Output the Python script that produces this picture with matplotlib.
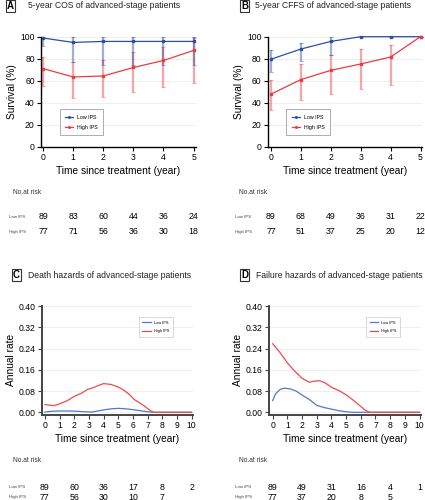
import matplotlib
matplotlib.use("Agg")
import matplotlib.pyplot as plt
import matplotlib.transforms as mtransforms
from matplotlib import font_manager

# ---- data ----
years = [0, 1, 2, 3, 4, 5]

cos_low = [98.8, 94.8, 95.7, 95.7, 95.7, 95.7]
cos_low_hi = [100, 99.5, 99.5, 99.5, 99.5, 99.5]
cos_low_lo = [91.8, 76.7, 74.3, 74.0, 74.0, 74.3]
cos_high = [71.0, 63.4, 64.3, 72.0, 78.4, 87.5]
cos_high_hi = [81.8, 76.7, 78.8, 86.0, 90.6, 99.0]
cos_high_lo = [55.2, 44.3, 44.8, 49.7, 53.9, 57.9]

cffs_low = [79.5, 88.8, 95.7, 100, 100, 100]
cffs_low_hi = [87.5, 94.5, 99.5, 100, 100, 100]
cffs_low_lo = [67.9, 77.5, 83.0, 100, 100, 100]
cffs_high = [47.8, 61.0, 69.4, 75.2, 81.5, 100]
cffs_high_hi = [60.6, 75.2, 83.0, 88.8, 92.9, 100]
cffs_high_lo = [33.0, 42.5, 47.9, 52.1, 56.3, 100]

risk_A_low = [89, 83, 60, 44, 36, 24]
risk_A_high = [77, 71, 56, 36, 30, 18]
risk_B_low = [89, 68, 49, 36, 31, 22]
risk_B_high = [77, 51, 37, 25, 20, 12]

death_t_high = [0, 0.6, 1.0, 1.5, 2.0, 2.5, 2.9, 3.3, 3.7, 4.0, 4.5, 5.0, 5.3, 5.7, 6.1, 6.5, 6.8, 7.1, 7.4, 8, 9, 10]
death_high = [0.029, 0.025, 0.032, 0.043, 0.060, 0.072, 0.086, 0.093, 0.102, 0.108, 0.105, 0.095, 0.086, 0.070, 0.048, 0.034, 0.023, 0.010, 0.0, 0.0, 0.0, 0.0]
death_t_low = [0, 0.5, 1.0, 1.6, 2.2, 2.7, 3.2, 3.6, 4.0, 4.5, 5.0, 5.5, 6.0, 6.5, 7.0, 7.4, 8, 9, 10]
death_low = [0.001, 0.004, 0.005, 0.005, 0.004, 0.002, 0.001, 0.005, 0.009, 0.013, 0.015, 0.013, 0.010, 0.006, 0.002, 0.0, 0.0, 0.0, 0.0]

fail_t_high = [0, 0.5, 1.0, 1.5, 2.0, 2.5, 2.8, 3.2, 3.6, 4.0, 4.5, 5.0, 5.5, 6.0, 6.3, 6.6, 7, 8, 9, 10]
fail_high = [0.258, 0.225, 0.186, 0.155, 0.128, 0.113, 0.117, 0.119, 0.110, 0.094, 0.082, 0.066, 0.045, 0.022, 0.008, 0.0, 0.0, 0.0, 0.0, 0.0]
fail_t_low = [0, 0.2, 0.5, 0.8, 1.2, 1.6, 2.0, 2.5, 3.0, 3.5, 4.0, 4.5, 5.0, 5.5, 6, 7, 8, 9, 10]
fail_low = [0.044, 0.070, 0.086, 0.091, 0.088, 0.080, 0.065, 0.048, 0.026, 0.018, 0.012, 0.006, 0.002, 0.0, 0.0, 0.0, 0.0, 0.0, 0.0]

risk_C_years = [0, 2, 4, 6, 8, 10]
risk_C_low = [89, 60, 36, 17, 8, 2]
risk_C_high = [77, 56, 30, 10, 7, ""]
risk_D_low = [89, 49, 31, 16, 4, 1]
risk_D_high = [77, 37, 20, 8, 5, ""]

# ---- style ----
available = {f.name for f in font_manager.fontManager.ttflist}
narrow = "Liberation Sans Narrow" if "Liberation Sans Narrow" in available else "Liberation Sans"
plt.rcParams["font.family"] = ["Liberation Sans", "DejaVu Sans"]

BLUE = "#2b4ea6"
RED = "#ee3a3f"
BLUE2 = "#5577c6"
RED2 = "#f24848"
GRID = "#ececec"

W, H = 425, 500
fig = plt.figure(figsize=(4.25, 5.0), dpi=100)


def add_ax(left, top, right, bottom):
    return fig.add_axes([left / W, 1 - bottom / H, (right - left) / W, (bottom - top) / H])


def fy(py):
    return 1 - py / H


def style_ax(ax, spine_color="black", spine_w=1.0):
    for s in ["top", "right"]:
        ax.spines[s].set_visible(False)
    for s in ["left", "bottom"]:
        ax.spines[s].set_linewidth(spine_w)
        ax.spines[s].set_color(spine_color)
    ax.tick_params(length=3, width=0.8, pad=1.5, labelsize=6.2, color=spine_color)
    for lab in ax.get_xticklabels() + ax.get_yticklabels():
        lab.set_fontfamily(narrow)
    ax.yaxis.grid(True, color=GRID, lw=0.6)
    ax.set_axisbelow(True)


def panel_title(x_box, x_text, y, letter, text):
    fig.text(x_box / W, fy(y), letter, fontsize=7, fontweight="bold", va="center", ha="left",
             bbox=dict(boxstyle="square,pad=0.12", fc="white", ec="#333333", lw=0.8))
    fig.text(x_text / W, fy(y), text, fontsize=6.2, va="center", ha="left", color="#222222")


def surv_panel(ax, low, low_hi, low_lo, high, high_hi, high_lo):
    for y, hi, lo, c in [(high, high_hi, high_lo, RED), (low, low_hi, low_lo, BLUE)]:
        yerr = [[v - l for v, l in zip(y, lo)], [h - v for v, h in zip(y, hi)]]
        ax.errorbar(years, y, yerr=yerr, fmt="none", ecolor=c, alpha=0.45, elinewidth=1.6,
                    capsize=1.5, capthick=0.8, clip_on=False)
    ax.plot(years, low, color=BLUE, lw=0.9, marker="s", ms=2, label="Low IPS", clip_on=False, zorder=5)
    ax.plot(years, high, color=RED, lw=0.9, marker="s", ms=2, label="High IPS", clip_on=False, zorder=5)
    ax.set_ylim(0, 100)
    ax.set_yticks([0, 20, 40, 60, 80, 100])
    ax.set_xticks(years)
    style_ax(ax)
    ax.set_xlabel("Time since treatment (year)", fontsize=7.3, fontfamily=narrow, labelpad=3)
    ax.set_ylabel("Survival (%)", fontsize=7.3, fontfamily=narrow, labelpad=2)
    ax.legend(loc="lower left", bbox_to_anchor=(0.12, 0.105), borderaxespad=0, fontsize=3.8,
              handlelength=1.6, markerscale=0.5, frameon=True, fancybox=False, edgecolor="#888888",
              borderpad=1.0, labelspacing=1.0, handletextpad=0.7).get_frame().set_linewidth(0.6)


def hazard_panel(ax, tl, low, th, high):
    ax.plot(tl, low, color=BLUE2, lw=0.9, label="Low IPS")
    ax.plot(th, high, color=RED2, lw=0.9, label="High IPS")
    ax.set_xlim(-0.2, 10.1)
    ax.set_ylim(-0.009, 0.4)
    ax.set_yticks([0, 0.08, 0.16, 0.24, 0.32, 0.40])
    ax.set_yticklabels(["0.00", "0.08", "0.16", "0.24", "0.32", "0.40"])
    ax.set_xticks(range(0, 11))
    style_ax(ax, spine_color="#444444", spine_w=1.4)
    ax.set_xlabel("Time since treatment (year)", fontsize=7.3, fontfamily=narrow, labelpad=3)
    ax.set_ylabel("Annual rate", fontsize=7.3, fontfamily=narrow, labelpad=2)
    ax.legend(loc="lower left", bbox_to_anchor=(0.64, 0.715), borderaxespad=0, fontsize=2.8,
              handlelength=2.2, frameon=True, fancybox=False, edgecolor="#bbbbbb",
              borderpad=0.9, labelspacing=1.2, handletextpad=0.8).get_frame().set_linewidth(0.5)


def risk_table(ax, xs, low, high, x_lab, y_title, y_low, y_high):
    fig.text(x_lab / W, fy(y_title), "No.at risk", fontsize=4.8, va="center", ha="left", color="#333333")
    fig.text((x_lab - 4) / W, fy(y_low), "Low IPS", fontsize=3.2, va="center", ha="left", color="#444444")
    fig.text((x_lab - 4) / W, fy(y_high), "High IPS", fontsize=3.2, va="center", ha="left", color="#444444")
    tr = mtransforms.blended_transform_factory(ax.transData, fig.transFigure)
    for x, a, b in zip(xs, low, high):
        ax.text(x, fy(y_low), str(a), transform=tr, fontsize=6.3, ha="center", va="center", clip_on=False)
        ax.text(x, fy(y_high), str(b), transform=tr, fontsize=6.3, ha="center", va="center", clip_on=False)


# panel A
axA = add_ax(41, 36.7, 196, 146.7)
axA.set_xlim(-0.07, 5.08)
surv_panel(axA, cos_low, cos_low_hi, cos_low_lo, cos_high, cos_high_hi, cos_high_lo)
panel_title(7, 28, 6, "A", "5-year COS of advanced-stage patients")
risk_table(axA, years, risk_A_low, risk_A_high, 13, 192, 217, 232)

# panel B
axB = add_ax(268, 36.7, 422, 146.7)
axB.set_xlim(-0.1, 5.05)
surv_panel(axB, cffs_low, cffs_low_hi, cffs_low_lo, cffs_high, cffs_high_hi, cffs_high_lo)
panel_title(241, 255, 6, "B", "5-year CFFS of advanced-stage patients")
risk_table(axB, years, risk_B_low, risk_B_high, 239, 192, 217, 232)

# panel C
axC = add_ax(42, 306, 193, 414.7)
hazard_panel(axC, death_t_low, death_low, death_t_high, death_high)
panel_title(13, 28, 275, "C", "Death hazards of advanced-stage patients")
risk_table(axC, risk_C_years, risk_C_low, risk_C_high, 13, 461, 487, 497)

# panel D
axD = add_ax(269, 306, 421, 414.7)
hazard_panel(axD, fail_t_low, fail_low, fail_t_high, fail_high)
axD.set_xlim(-0.25, 10.1)
panel_title(241, 256, 275, "D", "Failure hazards of advanced-stage patients")
risk_table(axD, risk_C_years, risk_D_low, risk_D_high, 239, 461, 487, 497)

fig.savefig("out.png", dpi=100, facecolor="white")
